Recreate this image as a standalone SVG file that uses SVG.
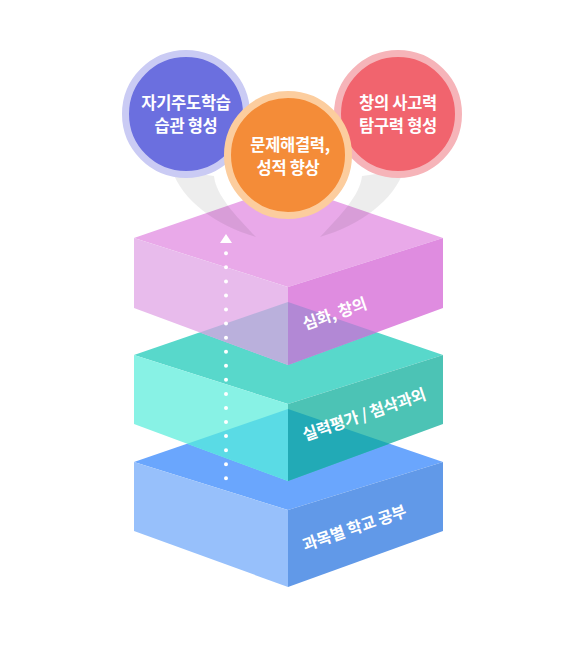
<svg xmlns="http://www.w3.org/2000/svg" width="577" height="661" viewBox="0 0 577 661">
<style>
.ct{font-family:"Noto Sans CJK KR","Noto Sans",sans-serif;font-weight:700;font-size:16.5px;fill:#fff;text-anchor:middle;letter-spacing:-0.3px}
.bl{font-family:"Noto Sans CJK KR","Noto Sans",sans-serif;font-weight:700;font-size:16px;fill:#fff;letter-spacing:-0.2px}
</style>
<rect width="577" height="661" fill="#fff"/>
<g id="layer-blue">
<polygon points="134,462 288,409 443,462 288,510" fill="#6aa6fd"/>
<polygon points="134,462 288,510 288,587 134,531" fill="#97c0fb"/>
<polygon points="288,510 443,462 443,531 288,587" fill="#6199e8"/>
</g>
<g id="layer-teal">
<polygon points="134,355 288,302 443,355 288,404" fill="#58d8cb"/>
<polygon points="134,355 288,404 288,481 134,424" fill="#88f2e5"/>
<polygon points="288,404 443,355 443,424 288,481" fill="#4cc3b5"/>
<polygon points="187.2,443.7 288,409 288,481" fill="#5adbe5"/>
<polygon points="288,409 389.5,443.7 288,481" fill="#22aab6"/>
</g>
<g id="layer-pink">
<polygon points="134,238 288,185 443,238 288,287" fill="#e9a9e9"/>
<polygon points="134,238 288,287 288,365 134,308" fill="#e8bbec"/>
<polygon points="288,287 443,238 443,308 288,365" fill="#df8ce0"/>
<polygon points="199.8,332.4 288,302 288,365" fill="#bab0dc"/>
<polygon points="288,302 376.8,332.4 288,365" fill="#b288d5"/>
</g>
<g id="connectors">
<line x1="226" y1="253.3" x2="226" y2="479" stroke="#fff" stroke-width="4" stroke-linecap="round" stroke-dasharray="0 14.06"/>
<polygon points="226,234 220,243 232,243" fill="#fff"/>
</g>
<g id="labels">
<text class="bl" transform="translate(305,330) rotate(-19)">심화, 창의</text>
<text class="bl" transform="translate(305,441) rotate(-19)">실력평가 / 첨삭과외</text>
<text class="bl" transform="translate(305,551) rotate(-19)">과목별 학교 공부</text>
</g>
<g id="beams" fill="#000" fill-opacity="0.07">
<path d="M172,170 C182,200 215,225 256,237 C235,215 216,195 214,176 Z"/>
<path d="M404,170 C394,200 361,225 320,237 C341,215 360,195 362,176 Z"/>
</g>
<g id="circle-left">
<circle cx="186" cy="114" r="60.5" fill="#6b6fdf" stroke="#cacbf4" stroke-width="7"/>
<text class="ct" x="186" y="109">자기주도학습</text>
<text class="ct" x="186" y="132">습관 형성</text>
</g>
<g id="circle-right">
<circle cx="398" cy="114" r="60.5" fill="#f1646e" stroke="#f6b4b9" stroke-width="7"/>
<text class="ct" x="398" y="109">창의 사고력</text>
<text class="ct" x="398" y="132">탐구력 형성</text>
</g>
<g id="circle-mid">
<circle cx="288" cy="155" r="60.5" fill="#f48c38" stroke="#fccd9e" stroke-width="7"/>
<text class="ct" x="290" y="151">문제해결력,</text>
<text class="ct" x="288" y="174">성적 향상</text>
</g>
</svg>
